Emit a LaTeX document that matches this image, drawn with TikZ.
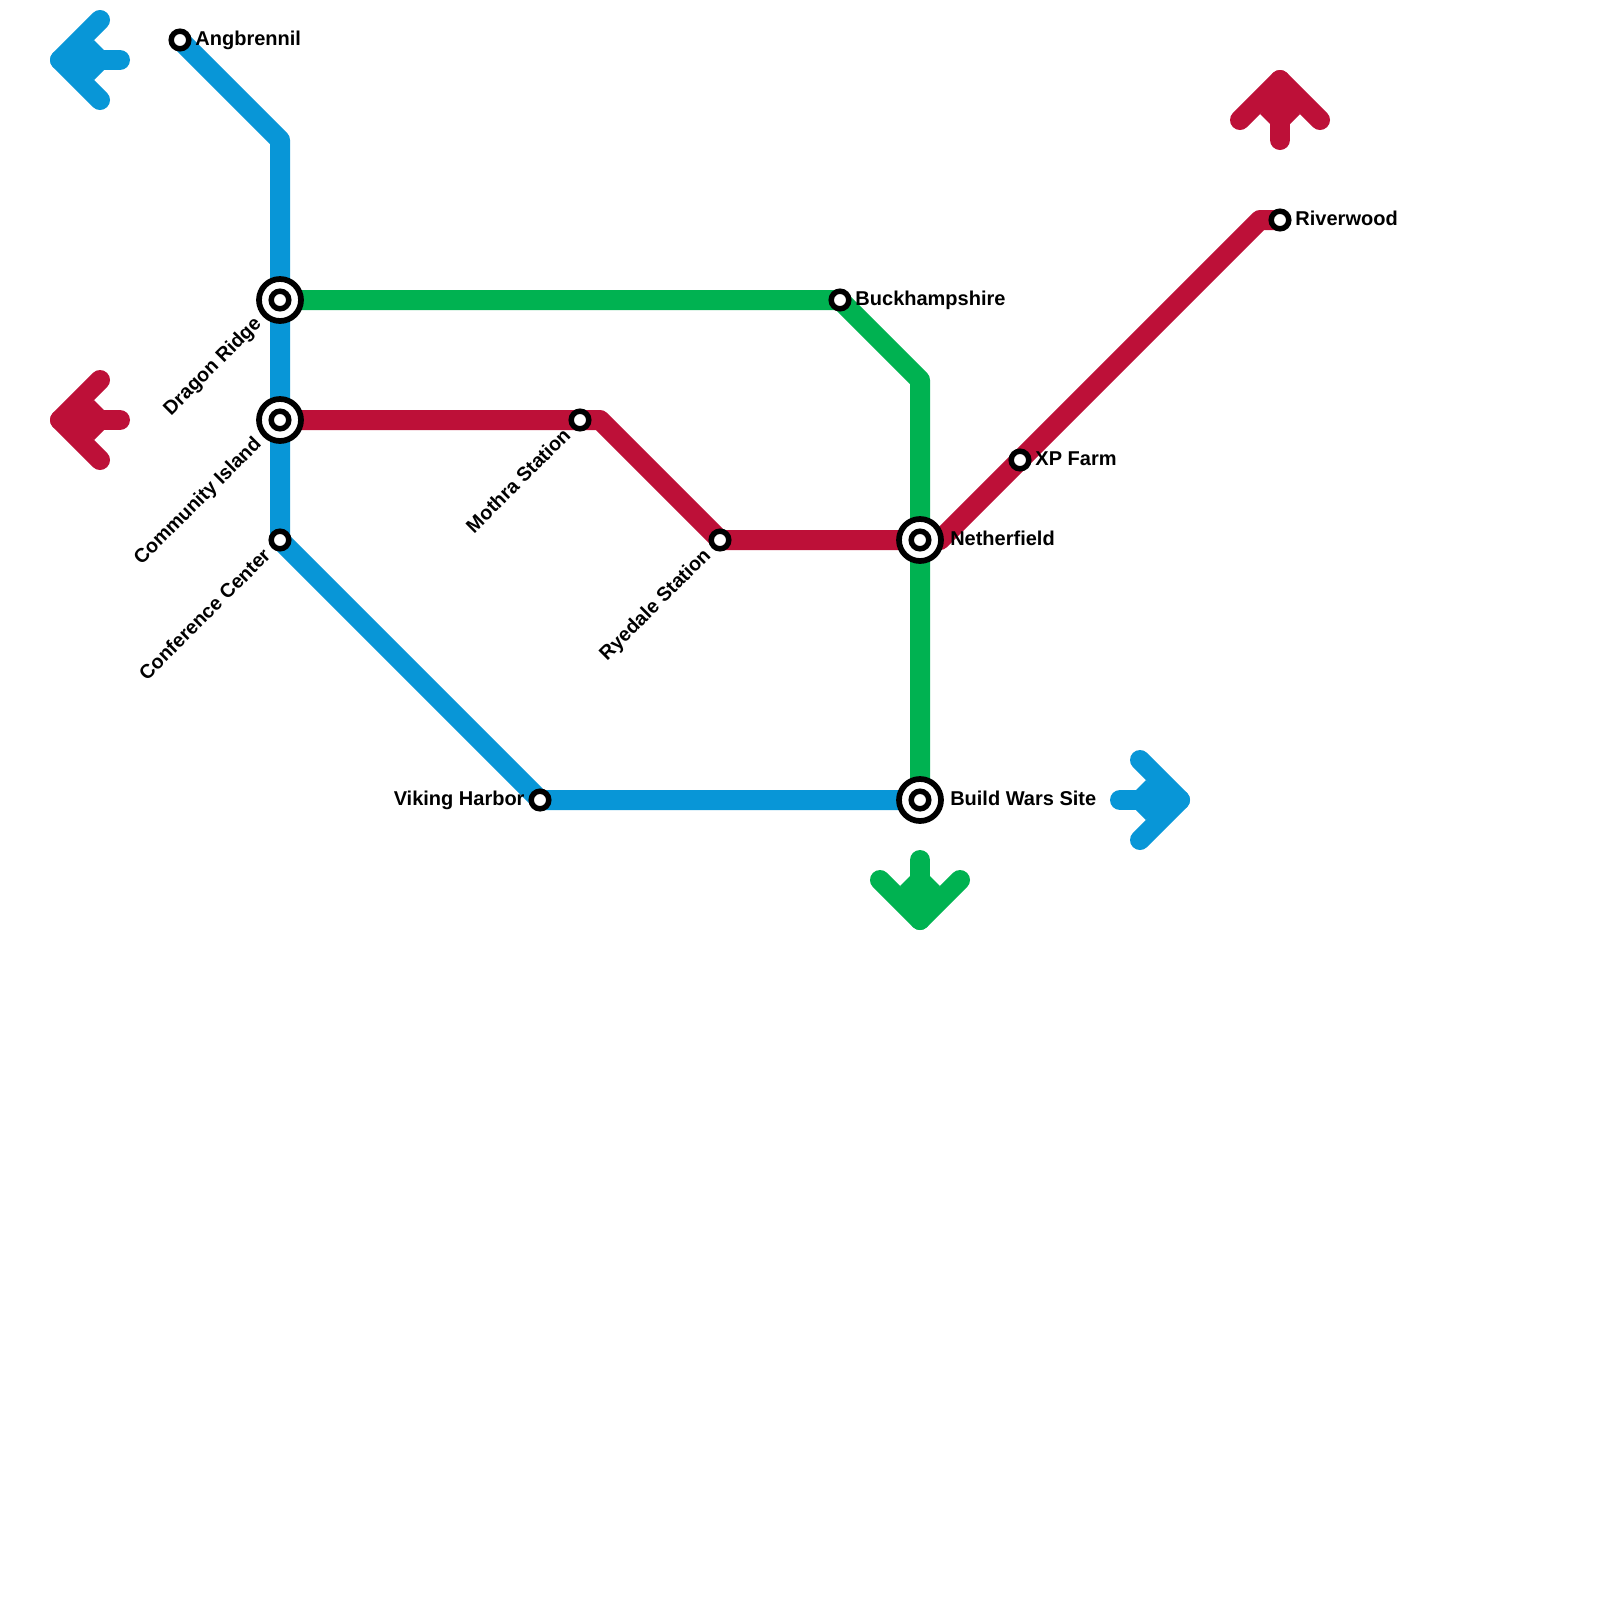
\documentclass[tikz,border=0pt]{standalone}
\usepackage{fontspec}
\setsansfont{Liberation Sans}
\usepackage{xcolor}
\usetikzlibrary{backgrounds}
\definecolor{bluetrack}{HTML}{0896D7}
\definecolor{greentrack}{HTML}{00B251}
\definecolor{redtrack}{HTML}{BD1038}
\tikzset{
  track/.style={draw=#1, line width=15pt, line join=round},
  track/.default=bluetrack,
  stopdot/.style={
    circle, draw=black, fill=white, line width=4.1pt,
    minimum size=13.2pt, inner sep=0pt
  },
  hubdot/.style={
    circle, draw=black, fill=white, line width=4.3pt,
    minimum size=31.5pt, inner sep=0pt
  },
  hubcore/.style={
    circle, draw=black, fill=white, line width=4.1pt,
    minimum size=13.2pt, inner sep=0pt
  },
  stoplabel/.style={
    font=\fontsize{15}{18}\selectfont\sffamily\bfseries, text=black,
    inner sep=0pt, anchor=base west
  },
  sidelabel/.style={stoplabel, anchor=base east},
  slantlabel/.style={stoplabel, anchor=base east, rotate=45,
    font=\fontsize{14.75}{18}\selectfont\sffamily\bfseries},
  pics/exitmark/.style={code={
    \fill[#1] (10,0) -- (34,-20) -- (44,-10) -- (44,10) -- (34,20) -- cycle;
    \draw[track=#1, line cap=round] (40,-40) -- (0,0) -- (40,40);
    \draw[track=#1, line cap=round] (0,0) -- (60,0);
  }},
}
\begin{document}
\begin{tikzpicture}[x=0.75pt, y=-0.75pt]
  \useasboundingbox (0,0) rectangle (1600,1600);
  % Bends
  \coordinate (b1) at (280,140);
  \coordinate (g1) at (920,380);
  \coordinate (r1) at (600,420);
  \coordinate (r2) at (940,540);
  \coordinate (r3) at (1260,220);
  % Stops
  \node[stopdot] (angbrennil) at (180,40) {};
  \node[stopdot] (conference) at (280,540) {};
  \node[stopdot] (viking) at (540,800) {};
  \node[stopdot] (buckham) at (840,300) {};
  \node[stopdot] (mothra) at (580,420) {};
  \node[stopdot] (ryedale) at (720,540) {};
  \node[stopdot] (xpfarm) at (1020,460) {};
  \node[stopdot] (riverwood) at (1280,220) {};
  % Hubs
  \node[hubdot] (dragon) at (280,300) {};
  \node[hubcore] (dragon-c) at (dragon.center) {};
  \node[hubdot] (community) at (280,420) {};
  \node[hubcore] (community-c) at (community.center) {};
  \node[hubdot] (nether) at (920,540) {};
  \node[hubcore] (nether-c) at (nether.center) {};
  \node[hubdot] (buildwars) at (920,800) {};
  \node[hubcore] (buildwars-c) at (buildwars.center) {};
  \begin{scope}[on background layer]
    % Blue line
    \draw[track] (angbrennil.center) -- (b1) -- (dragon.center) -- (community.center) -- (conference.center) -- (viking.center) -- (buildwars.center);
    % Green line
    \draw[track=greentrack] (dragon.center) -- (buckham.center) -- (g1) -- (nether.center) -- (buildwars.center);
    % Red line
    \draw[track=redtrack] (community.center) -- (mothra.center) -- (r1) -- (ryedale.center) -- (nether.center) -- (r2) -- (xpfarm.center) -- (r3) -- (riverwood.center);
  \end{scope}
  % Exit marks
  \pic at (60,60) {exitmark=bluetrack};
  \pic at (60,420) {exitmark=redtrack};
  \pic[rotate=180] at (1180,800) {exitmark=bluetrack};
  \pic[rotate=90] at (920,920) {exitmark=greentrack};
  \pic[rotate=-90] at (1280,80) {exitmark=redtrack};
  % Labels
  \node[stoplabel] (angbrennil-t) at ([xshift=11.4pt,yshift=-4.2pt]angbrennil.center) {Angbrennil};
  \node[stoplabel] (buckham-t) at ([xshift=11.4pt,yshift=-4.2pt]buckham.center) {Buckhampshire};
  \node[stoplabel] (xpfarm-t) at ([xshift=11.4pt,yshift=-4.2pt]xpfarm.center) {XP Farm};
  \node[stoplabel] (riverwood-t) at ([xshift=11.4pt,yshift=-4.2pt]riverwood.center) {Riverwood};
  \node[stoplabel] (nether-t) at ([xshift=22.5pt,yshift=-4.2pt]nether.center) {Netherfield};
  \node[stoplabel] (buildwars-t) at ([xshift=22.5pt,yshift=-4.2pt]buildwars.center) {Build Wars Site};
  \node[sidelabel] (viking-t) at ([xshift=-11.4pt,yshift=-4.2pt]viking.center) {Viking Harbor};
  \node[slantlabel] (dragon-t) at ([xshift=-13.2pt,yshift=-18.6pt]dragon.center) {Dragon Ridge};
  \node[slantlabel] (community-t) at ([xshift=-13.2pt,yshift=-18.6pt]community.center) {Community Island};
  \node[slantlabel] (conference-t) at ([xshift=-6.2pt,yshift=-12.4pt]conference.center) {Conference Center};
  \node[slantlabel] (mothra-t) at ([xshift=-6.2pt,yshift=-12.4pt]mothra.center) {Mothra Station};
  \node[slantlabel] (ryedale-t) at ([xshift=-6.2pt,yshift=-12.4pt]ryedale.center) {Ryedale Station};
\end{tikzpicture}
\end{document}
